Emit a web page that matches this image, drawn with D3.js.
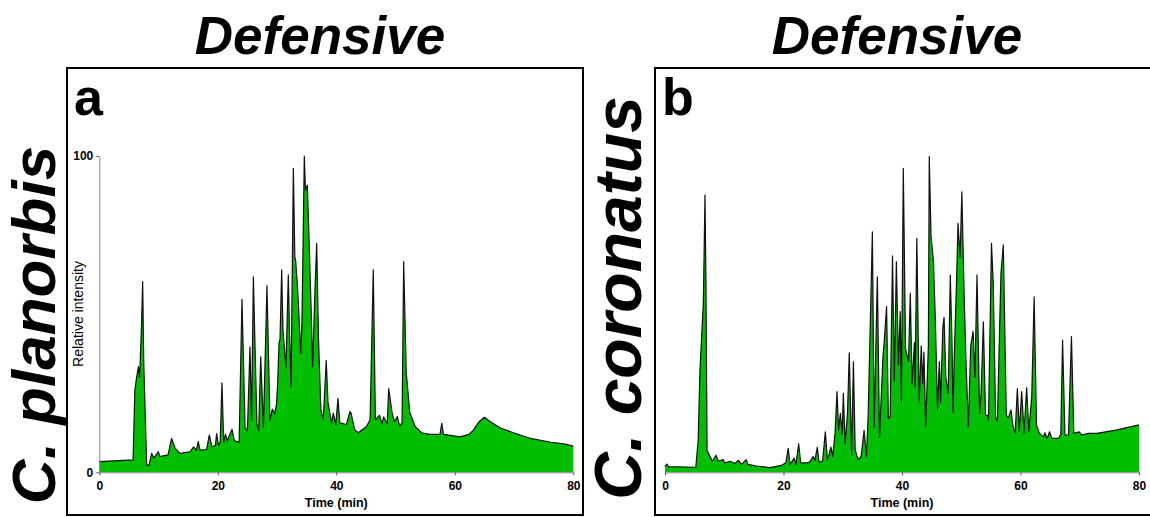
<!DOCTYPE html>
<html>
<head>
<meta charset="utf-8">
<script src="https://cdn.jsdelivr.net/npm/d3@7"></script>
<style>
  body { margin: 0; background: #fff; }
  svg { display: block; font-family: Arial, "Liberation Sans", sans-serif; }
</style>
</head>
<body>
<div id="chart"></div>
<script>
// chromatogram a (C. planorbis) - time (min) / relative intensity
const timeA = [0,5.7,6.0,6.3,6.6,6.8,7.1,7.32,7.5,7.71,8.0,8.4,8.84,9.2,9.96,10.2,11.6,12.2,12.8,13.6,15.3,15.9,16.4,16.7,17.0,18.1,18.57,19.0,19.6,19.8,20.1,20.4,20.7,21.0,21.3,21.6,22.4,22.8,23.6,24.08,24.6,25.0,25.43,25.7,26.0,26.6,26.9,27.24,27.7,28.3,28.8,29.2,29.6,29.9,30.1,30.33,30.5,30.78,31.0,31.3,31.5,31.9,32.1,32.36,32.55,32.75,33.0,33.14,33.4,33.6,33.99,34.2,34.45,34.6,34.8,35.1,35.3,35.44,35.7,35.85,36.0,36.2,36.4,36.69,37.0,37.4,37.8,38.3,38.6,39.2,39.5,39.9,40.28,40.6,41.7,42.3,42.5,43.1,43.7,45.1,45.7,46.24,46.6,47.3,47.7,48.0,48.6,48.84,49.4,49.8,50.3,50.7,51.1,51.37,51.8,52.4,53.3,54.4,55.8,57.5,57.8,58.1,59.2,60.9,62.4,63.2,64.1,65.0,66.0,67.7,69.9,72.8,76.2,78.4,80];
const intensityA = [3.4,3.9,26,30,33.4,30,45,60.3,35,20.7,2.3,2.3,6.0,4.5,6.5,5.0,5.5,10.7,7.6,6.0,6.5,8,7,9.7,7,7.2,11.8,8,8.5,12.2,8.5,9.5,28.3,9.5,12,10,13.6,10,9.5,54.7,14.2,13.2,39.7,16.3,61.8,15.3,13.2,36.5,14.2,59,16.3,20,18.4,21.6,28,40.8,42,64,45,38,33,62.4,45,27,60,96.1,68,67,60,53.7,37.6,47,80,100,89.2,90.8,80,71.3,55,45,33.4,45,57.6,72.4,42,19.7,16.7,35.3,22,15.6,18.7,15,23.4,15.6,15.1,19.2,18.7,13.5,12.5,14.5,16.6,64,16.6,18,15.4,17.5,15.4,26.5,19,16,17.6,14.6,15.6,66.6,31.6,19,14.5,12.5,12,12,15.5,12,11.7,11.2,12,13.5,16,17.4,16,14,12.5,10.7,9.5,9,8.3];

// chromatogram b (C. coronatus)
const timeB = [0,0.3,0.6,5.2,5.6,5.9,6.47,6.75,6.9,7.1,7.5,8.0,8.6,9.0,9.8,10.1,11.0,11.8,12.4,12.9,13.7,14.0,15.5,17.7,19.7,20.4,20.8,21.1,21.8,22.1,22.56,22.9,23.9,24.4,25.0,25.3,25.7,26.0,26.6,27.06,27.4,27.75,28.0,28.3,28.7,29.03,29.3,29.6,29.9,30.1,30.4,30.8,31.1,31.5,31.8,32.1,32.6,33.1,33.6,34.0,34.3,35.0,35.3,35.84,36.2,36.8,37.0,37.4,37.7,38.0,38.4,38.7,39.05,39.4,39.7,39.9,40.22,40.6,41.1,41.4,41.7,42.1,42.2,42.5,42.9,43.25,43.5,43.7,44.0,44.45,44.6,44.9,45.3,45.6,46.0,46.3,46.5,46.9,47.1,47.4,47.8,48.15,48.45,48.6,48.8,49.2,49.45,49.8,50.1,50.5,50.8,51.2,51.6,52.0,52.3,52.66,53.1,53.35,53.73,54.1,54.4,54.6,55.1,55.4,55.8,56.1,56.7,57.1,57.6,58.0,58.4,58.7,59.1,59.47,59.8,60.2,60.6,61.04,61.4,61.9,62.3,62.7,63.2,63.9,64.1,64.5,64.9,65.3,66.4,66.8,67.1,67.5,68.1,68.6,69.0,69.9,70.3,71.5,72.9,76.3,80];
const intensityB = [1.8,2.6,1.8,1.6,10.2,32.3,53.4,87.7,62,7,5.4,3.5,5.4,3.5,4,3,3.5,2.8,3.8,2.5,4,2.5,2,1.5,2.2,3,7.6,2.5,4.5,2.5,9,3,3,3.2,5,3.8,7.9,3.2,3.5,12.8,4,6,8,5,12.3,25.5,13.3,18.6,12,25,9,18.6,37.8,5.3,35,7,4,5,13.3,5,18.6,76,14.3,61.8,11,37,41.3,52.4,17,17.6,68.4,28.8,66.6,34,50.8,22,96.1,39,35,56.6,28,41,27,74,22,40,28,38,14.4,40,99.8,74.6,67,50,19.7,35,22,46,49,30,25,62.4,40,19,35,60,78.7,68,88.7,55,35,14.4,40,44.6,30,62.4,18.6,25,47.6,18,18,16.5,72.4,60,17.4,16,63,71.9,18,17.4,19.7,15,12.3,26.5,13,25.5,12.5,26.8,13,24,55.5,15,12.3,11.2,12.5,10.7,12.8,10.7,10.7,12,41.8,11.8,11.8,42.9,12.3,12.8,11.8,12.3,12.3,13.4,15];

const xTicks = [0, 20, 40, 60, 80];
const yTicks = [0, 100];
const panelLetters = ["a", "b"];
const titles = ["Defensive", "Defensive"];
const species = ["C. planorbis", "C. coronatus"];

const width = 1150, height = 517;
const green = "#00bf00";

const svg = d3.select("#chart").append("svg")
    .attr("width", width)
    .attr("height", height);

const panels = [
    { time: timeA, val: intensityA, frame: [67, 68, 583, 515], xr: [99.3, 573.3], showY: true, titleX: 320, speciesX: 55, speciesY: 325, speciesSize: 62 },
    { time: timeB, val: intensityB, frame: [655, 68, 1160, 515], xr: [665, 1139], showY: false, titleX: 897, speciesX: 641, speciesY: 298, speciesSize: 66 }
];

panels.forEach((p, i) => {
    const data = p.time.map((t, k) => ({ t: t, v: p.val[k] }));
    const x = d3.scaleLinear().domain([0, 80]).range(p.xr);
    const y = d3.scaleLinear().domain([0, 100]).range([472.3, 156]);

    // frame
    svg.append("rect")
        .attr("x", p.frame[0]).attr("y", p.frame[1])
        .attr("width", p.frame[2] - p.frame[0]).attr("height", p.frame[3] - p.frame[1])
        .attr("fill", "none").attr("stroke", "#000").attr("stroke-width", 2);

    // title above the frame
    svg.append("text")
        .attr("x", p.titleX).attr("y", 54)
        .attr("text-anchor", "middle")
        .style("font-size", "53px").style("font-weight", "bold").style("font-style", "italic")
        .text(titles[i]);

    // species name, rotated
    svg.append("text")
        .attr("transform", `translate(${p.speciesX},${p.speciesY}) rotate(-90)`)
        .attr("text-anchor", "middle")
        .style("font-size", p.speciesSize + "px").style("font-weight", "bold").style("font-style", "italic")
        .text(species[i]);

    // panel letter
    svg.append("text")
        .attr("x", p.frame[0] + 7).attr("y", 115)
        .style("font-size", "52px").style("font-weight", "bold")
        .text(panelLetters[i]);

    const area = d3.area()
        .x(d => x(d.t))
        .y0(y(0))
        .y1(d => y(d.v));
    const line = d3.line()
        .x(d => x(d.t))
        .y(d => y(d.v));

    svg.append("path").datum(data)
        .attr("d", area)
        .attr("fill", green);
    svg.append("path").datum(data)
        .attr("d", line)
        .attr("fill", "none")
        .attr("stroke", "#111")
        .attr("stroke-width", 1.2)
        .attr("stroke-linejoin", "round");

    // x axis
    const gx = svg.append("g")
        .attr("transform", `translate(0,${y(0)})`)
        .call(d3.axisBottom(x).tickValues(xTicks).tickSize(3).tickSizeOuter(0));
    gx.select(".domain").attr("stroke", "#888");
    gx.selectAll(".tick line").attr("stroke", "#555");
    gx.selectAll(".tick text")
        .attr("dy", "0.95em")
        .style("font-size", "12px").style("font-weight", "bold")
        .style("font-family", "Arial, 'Liberation Sans', sans-serif");

    svg.append("text")
        .attr("x", (p.xr[0] + p.xr[1]) / 2).attr("y", 507)
        .attr("text-anchor", "middle")
        .style("font-size", "12.5px").style("font-weight", "bold")
        .text("Time (min)");

    if (p.showY) {
        const gy = svg.append("g")
            .attr("transform", `translate(${p.xr[0]},0)`)
            .call(d3.axisLeft(y).tickValues(yTicks).tickSize(3).tickSizeOuter(0));
        gy.select(".domain").attr("stroke", "#888");
        gy.selectAll(".tick line").attr("stroke", "#555");
        gy.selectAll(".tick text")
            .style("font-size", "12px").style("font-weight", "bold")
            .style("font-family", "Arial, 'Liberation Sans', sans-serif");

        svg.append("text")
            .attr("transform", `translate(83,314) rotate(-90)`)
            .attr("text-anchor", "middle")
            .style("font-size", "14px")
            .text("Relative intensity");
    }
});
</script>
</body>
</html>
